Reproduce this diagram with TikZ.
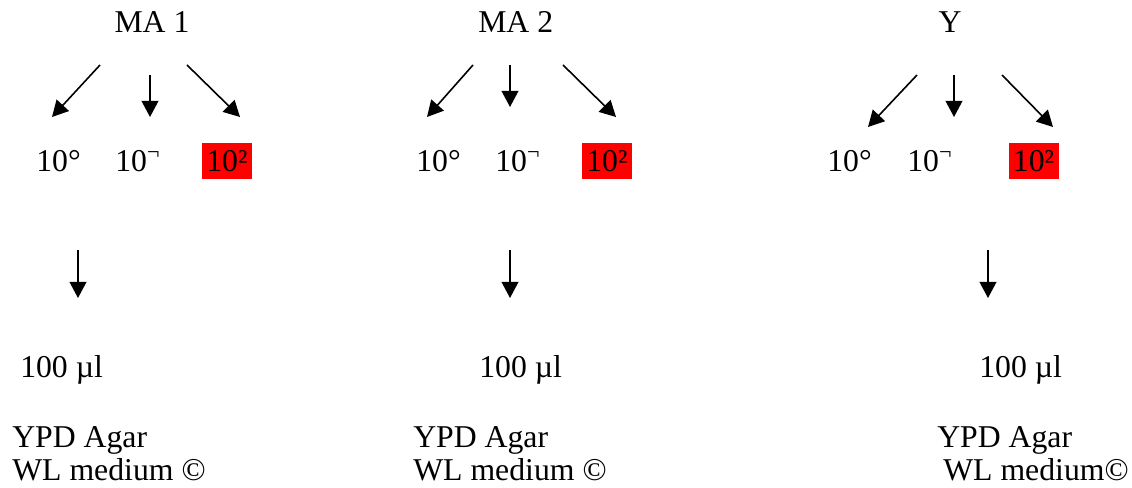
\documentclass[tikz,border=0pt]{standalone}
\usepackage{fontspec}
\setmainfont{Liberation Serif}
\usetikzlibrary{arrows.meta}
\newcommand\ringsup{°}
\newcommand\hooksup{\textsuperscript{¬}}
\newcommand\twosup{²}
\begin{document}
\begin{tikzpicture}[x=0.75pt,y=-0.75pt,
  lbl/.style={font=\fontsize{23.8}{28}\selectfont, inner sep=0pt},
  arr/.style={line width=1.2pt, -{Triangle[length=12pt,width=12.5pt]}},
  hi/.style={lbl, fill=red, minimum width=37.5pt, text height=21.75pt, text depth=5.25pt, inner ysep=0pt, inner xsep=0pt}]
\useasboundingbox (0,0) rectangle (1132,488);
% ---------- column 1 ----------
\node[lbl, anchor=base] (t1) at (152,33) {MA 1};
\node[lbl, anchor=base west] (z1) at (36,172) {10\ringsup};
\node[lbl, anchor=base west] (o1) at (115,172) {10\hooksup};
\node[hi, anchor=base] (w1) at (227,172) {10\twosup};
\node[lbl, anchor=base west] (m1) at (20,378) {100 µl};
\node[lbl, anchor=base west] (y1) at (12,447) {YPD Agar};
\node[lbl, anchor=base west] (l1) at (12,480) {WL medium ©};
\coordinate (a1s) at (100,65); \coordinate (a1e) at (52,117);
\coordinate (b1s) at (150,75); \coordinate (b1e) at (150,117);
\coordinate (c1s) at (187,65); \coordinate (c1e) at (240,117);
\coordinate (d1s) at (78,250); \coordinate (d1e) at (78,298);
\draw[arr] (a1s) -- (a1e);
\draw[arr] (b1s) -- (b1e);
\draw[arr] (c1s) -- (c1e);
\draw[arr] (d1s) -- (d1e);
% ---------- column 2 ----------
\node[lbl, anchor=base west] (t2) at (478,33) {MA 2};
\node[lbl, anchor=base west] (z2) at (416,172) {10\ringsup};
\node[lbl, anchor=base west] (o2) at (495,172) {10\hooksup};
\node[hi, anchor=base] (w2) at (607,172) {10\twosup};
\node[lbl, anchor=base west] (m2) at (479,378) {100 µl};
\node[lbl, anchor=base west] (y2) at (413,447) {YPD Agar};
\node[lbl, anchor=base west] (l2) at (413,480) {WL medium ©};
\coordinate (a2s) at (473,65); \coordinate (a2e) at (427,117);
\coordinate (b2s) at (510,65); \coordinate (b2e) at (510,107);
\coordinate (c2s) at (563,65); \coordinate (c2e) at (616,117);
\coordinate (d2s) at (510,250); \coordinate (d2e) at (510,298);
\draw[arr] (a2s) -- (a2e);
\draw[arr] (b2s) -- (b2e);
\draw[arr] (c2s) -- (c2e);
\draw[arr] (d2s) -- (d2e);
% ---------- column 3 ----------
\node[lbl, anchor=base] (t3) at (950,33) {Y};
\node[lbl, anchor=base west] (z3) at (827,172) {10\ringsup};
\node[lbl, anchor=base west] (o3) at (907,172) {10\hooksup};
\node[hi, anchor=base] (w3) at (1033.5,172) {10\twosup};
\node[lbl, anchor=base west] (m3) at (979,378) {100 µl};
\node[lbl, anchor=base west] (y3) at (937,447) {YPD Agar};
\node[lbl, anchor=base west] (l3) at (943,480) {WL medium©};
\coordinate (a3s) at (917,75); \coordinate (a3e) at (868,127);
\coordinate (b3s) at (954,75); \coordinate (b3e) at (954,117);
\coordinate (c3s) at (1002,75); \coordinate (c3e) at (1053,127);
\coordinate (d3s) at (988,250); \coordinate (d3e) at (988,298);
\draw[arr] (a3s) -- (a3e);
\draw[arr] (b3s) -- (b3e);
\draw[arr] (c3s) -- (c3e);
\draw[arr] (d3s) -- (d3e);
\end{tikzpicture}
\end{document}
